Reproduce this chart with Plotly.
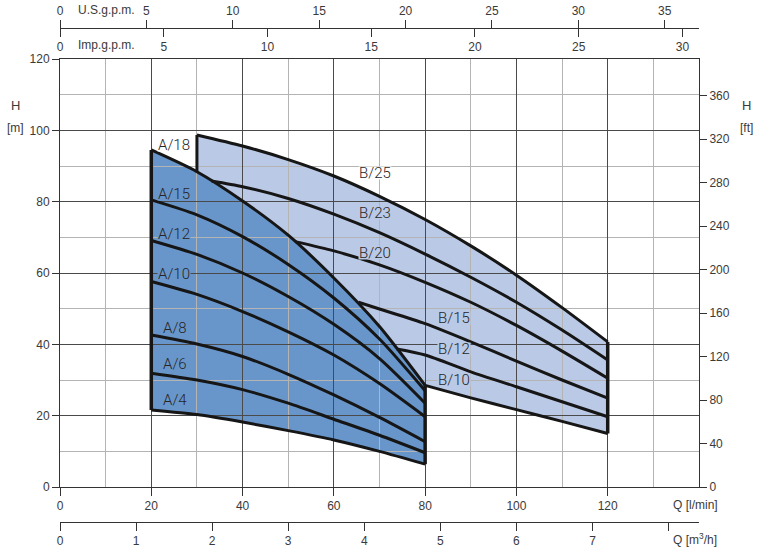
import plotly.graph_objects as go

# ---------------- data ----------------
Q_A = [20, 30, 40, 50, 60, 70, 80]          # l/min
A18 = [94.5, 88.4, 80.2, 70.6, 58.6, 45.0, 28.5]
A15 = [80.5, 76.3, 70.2, 62.4, 53.0, 41.5, 27.0]
A12 = [69.1, 65.2, 60.0, 53.4, 45.6, 36.0, 23.5]
A10 = [57.6, 54.0, 49.2, 43.5, 37.0, 29.0, 19.7]
A8 = [42.6, 40.1, 36.6, 31.6, 25.8, 19.5, 12.7]
A6 = [31.9, 30.0, 27.3, 23.5, 19.0, 14.5, 9.6]
A4 = [21.6, 20.3, 18.2, 15.8, 13.2, 10.0, 6.4]

B25_Q = [30, 40, 50, 60, 70, 80, 90, 100, 110, 120]
B25_H = [98.7, 95.6, 91.8, 87.2, 81.5, 75.0, 67.6, 59.4, 50.3, 40.7]
B23_Q = [33.2, 40, 50, 60, 70, 80, 90, 100, 110, 120]
B23_H = [85.8, 84.2, 80.9, 76.5, 71.3, 65.3, 58.8, 51.8, 44.0, 35.6]
B20_Q = [51.5, 60, 70, 80, 90, 100, 110, 120]
B20_H = [68.8, 66.2, 62.3, 57.4, 51.8, 45.3, 38.1, 30.5]
B15_Q = [65.4, 70, 80, 90, 100, 110, 120]
B15_H = [51.8, 49.9, 45.8, 40.7, 35.3, 30.0, 24.9]
B12_Q = [73.8, 80, 90, 100, 110, 120]
B12_H = [38.7, 37.0, 32.3, 28.1, 23.9, 19.7]
B10_Q = [80, 90, 100, 110, 120]
B10_H = [28.5, 25.0, 21.7, 18.4, 15.0]

A_curves = {"A/18": A18, "A/15": A15, "A/12": A12, "A/10": A10,
            "A/8": A8, "A/6": A6, "A/4": A4}
B_curves = {"B/25": (B25_Q, B25_H), "B/23": (B23_Q, B23_H),
            "B/20": (B20_Q, B20_H), "B/15": (B15_Q, B15_H),
            "B/12": (B12_Q, B12_H), "B/10": (B10_Q, B10_H)}

# curve labels (Q, H)
label_pos = {
    "A/18": (25.0, 95.9), "A/15": (25.0, 82.1), "A/12": (25.0, 70.9),
    "A/10": (25.0, 59.85), "A/8": (25.1, 44.7), "A/6": (25.1, 34.5),
    "A/4": (25.1, 24.4),
    "B/25": (69.1, 87.9), "B/23": (69.1, 76.7), "B/20": (69.1, 65.5),
    "B/15": (86.3, 47.5), "B/12": (86.3, 38.7), "B/10": (86.3, 30.1),
}

Q_MAX = 140
H_MAX = 120
X_TICKS = [0, 20, 40, 60, 80, 100, 120]
X_MINOR = [10, 30, 50, 70, 90, 110, 130]
Y_TICKS = [0, 20, 40, 60, 80, 100, 120]
Y_MINOR = [10, 30, 50, 70, 90, 110]
FT_TICKS = [0, 40, 80, 120, 160, 200, 240, 280, 320, 360]
M3H_TICKS = [0, 1, 2, 3, 4, 5, 6, 7]
M3H_EXTRA = [8]
LPM_PER_USGPM = 3.78541
LPM_PER_IMPGPM = 4.54609
M3H_PER_LPM = 0.06
FT_PER_M = 3.28084

# ---------------- styling ----------------
A_FILL = "rgb(105,150,202)"
B_FILL = "rgb(186,201,229)"
CURVE = "#161616"
FONT = "Liberation Sans, Arial, sans-serif"
LFONT = "Roboto, Liberation Sans, sans-serif"
TXT = "#3a3a3a"

W, H = 760, 550
ML, MR, MT, MB = 60, 61, 10, 10
plot_h = H - MT - MB
def py(p):  # pixel y -> paper fraction
    return (H - MB - p) / plot_h
def px(p):
    return (p - ML) / (W - ML - MR)

ydom = [py(487), py(59)]

fig = go.Figure()

# fills (subplot x/y, drawn below the grid of subplot x2/y2)
qa30 = [q for q in Q_A if q >= 30]
a18_30 = [h for q, h in zip(Q_A, A18) if q >= 30]
fig.add_trace(go.Scatter(
    x=B25_Q + B10_Q[::-1] + qa30[::-1],
    y=B25_H + B10_H[::-1] + a18_30[::-1],
    fill="toself", fillcolor=B_FILL, mode="lines", line=dict(width=0),
    xaxis="x", yaxis="y", hoverinfo="skip", showlegend=False))
fig.add_trace(go.Scatter(
    x=Q_A + Q_A[::-1], y=A18 + A4[::-1],
    fill="toself", fillcolor=A_FILL, mode="lines", line=dict(width=0),
    xaxis="x", yaxis="y", hoverinfo="skip", showlegend=False))

# black curves (subplot x2/y2, above its grid)
def line(x, y, w=3, shape="spline"):
    fig.add_trace(go.Scatter(x=x, y=y, mode="lines",
                             line=dict(color=CURVE, width=w, shape=shape, smoothing=0.7),
                             xaxis="x2", yaxis="y2", hoverinfo="skip",
                             showlegend=False))

for name, hv in A_curves.items():
    line(Q_A, hv)
for name, (qv, hv) in B_curves.items():
    line(qv, hv)
# envelope edges
line([Q_A[0], Q_A[0]], [A4[0], A18[0]], 3.5, "linear")
line([Q_A[-1], Q_A[-1]], [A4[-1], A18[-1]], 3.5, "linear")
line([B25_Q[0], B25_Q[0]], [a18_30[0], B25_H[0]], 3, "linear")
line([B25_Q[-1], B25_Q[-1]], [B10_H[-1], B25_H[-1]], 3.5, "linear")

# invisible copies so the secondary unit axes get drawn
def ghost(x, y, xa, ya):
    fig.add_trace(go.Scatter(x=x, y=y, mode="lines", opacity=0,
                             line=dict(width=0), xaxis=xa, yaxis=ya,
                             hoverinfo="skip", showlegend=False))

ghost([q / LPM_PER_USGPM for q in Q_A], A18, "x3", "y2")
ghost([q / LPM_PER_IMPGPM for q in Q_A], A18, "x4", "y2")
ghost([q * M3H_PER_LPM for q in Q_A], A18, "x5", "y2")
ghost(Q_A, [h * FT_PER_M for h in A18], "x2", "y3")

# curve labels
for name, (qx, hy) in label_pos.items():
    if name in ("A/18", "B/25"):
        bg = "white"
    elif name.startswith("A"):
        bg = A_FILL
    else:
        bg = B_FILL
    fig.add_annotation(x=qx, y=hy, xref="x2", yref="y2", text=name,
                       showarrow=False, bgcolor=bg, borderpad=0, height=12,
                       font=dict(family=LFONT, size=15, color="#262626",
                                 weight=300))

axis_common = dict(tickfont=dict(family=FONT, size=12, color=TXT),
                   linecolor="#333", linewidth=1, tickcolor="#333",
                   tickwidth=1, automargin=False)

fig.update_layout(
    width=W, height=H,
    margin=dict(l=ML, r=MR, t=MT, b=MB, autoexpand=False),
    paper_bgcolor="white", plot_bgcolor="rgba(0,0,0,0)",
    showlegend=False,
    xaxis=dict(domain=[0, 1], range=[0, Q_MAX], visible=False, anchor="y"),
    yaxis=dict(domain=ydom, range=[0, H_MAX], visible=False, anchor="x"),
    xaxis2=dict(domain=[0, 1], range=[0, Q_MAX], anchor="y2",
                tickmode="array", tickvals=X_TICKS,
                ticks="outside", ticklen=8, showline=True, mirror=True,
                showgrid=True, gridcolor="#4a4a4a", gridwidth=1,
                zeroline=False,
                minor=dict(tickmode="array", tickvals=X_MINOR, showgrid=True,
                           gridcolor="#b4b4b4", gridwidth=1, ticks=""),
                **axis_common),
    yaxis2=dict(domain=ydom, range=[0, H_MAX], anchor="x2",
                tickmode="array", tickvals=Y_TICKS,
                ticks="outside", ticklen=7, showline=True, mirror=True,
                showgrid=True, gridcolor="#4a4a4a", gridwidth=1,
                zeroline=False,
                minor=dict(tickmode="array", tickvals=Y_MINOR, showgrid=True,
                           gridcolor="#b4b4b4", gridwidth=1, ticks=""),
                **axis_common),
    yaxis3=dict(range=[0, H_MAX * FT_PER_M], overlaying="y2", anchor="x2",
                side="right", tickmode="array", tickvals=FT_TICKS,
                ticks="outside", ticklen=7, showline=True, showgrid=False,
                zeroline=False, **axis_common),
    xaxis3=dict(range=[0, Q_MAX / LPM_PER_USGPM], overlaying="x2", anchor="free",
                position=py(28), side="top", dtick=5, tick0=0,
                ticks="outside", ticklen=8, showline=True, showgrid=False,
                zeroline=False, **axis_common),
    xaxis4=dict(range=[0, Q_MAX / LPM_PER_IMPGPM], overlaying="x2", anchor="free",
                position=py(28), side="bottom", dtick=5, tick0=0,
                ticks="outside", ticklen=8, showline=True, showgrid=False,
                zeroline=False, **axis_common),
    xaxis5=dict(range=[0, Q_MAX * M3H_PER_LPM], overlaying="x2", anchor="free",
                position=py(522), side="bottom", tickmode="array",
                tickvals=M3H_TICKS,
                minor=dict(tickmode="array", tickvals=M3H_EXTRA,
                           ticks="outside", ticklen=8, tickcolor="#333",
                           showgrid=False),
                ticks="outside", ticklen=8, showline=True, showgrid=False,
                zeroline=False, **axis_common),
)

def note(text, xp, yp, anchor="left", size=12):
    fig.add_annotation(x=px(xp), y=py(yp), xref="paper", yref="paper",
                       text=text, showarrow=False, xanchor=anchor,
                       yanchor="middle",
                       font=dict(family=FONT, size=size, color=TXT))

note("U.S.g.p.m.", 76, 10)
note("Imp.g.p.m.", 76, 45)
note("Q [l/min]", 671, 505)
note("Q [m<sup>3</sup>/h]", 671, 539)
note("H", 15, 106, "center", 13)
note("[m]", 15, 128, "center", 12)
note("H", 746, 106, "center", 13)
note("[ft]", 746, 128, "center", 12)

fig.write_html("out.html", config={"displayModeBar": False},
               post_script="document.body.style.margin='0px';"
                           "document.body.style.overflow='hidden';")
